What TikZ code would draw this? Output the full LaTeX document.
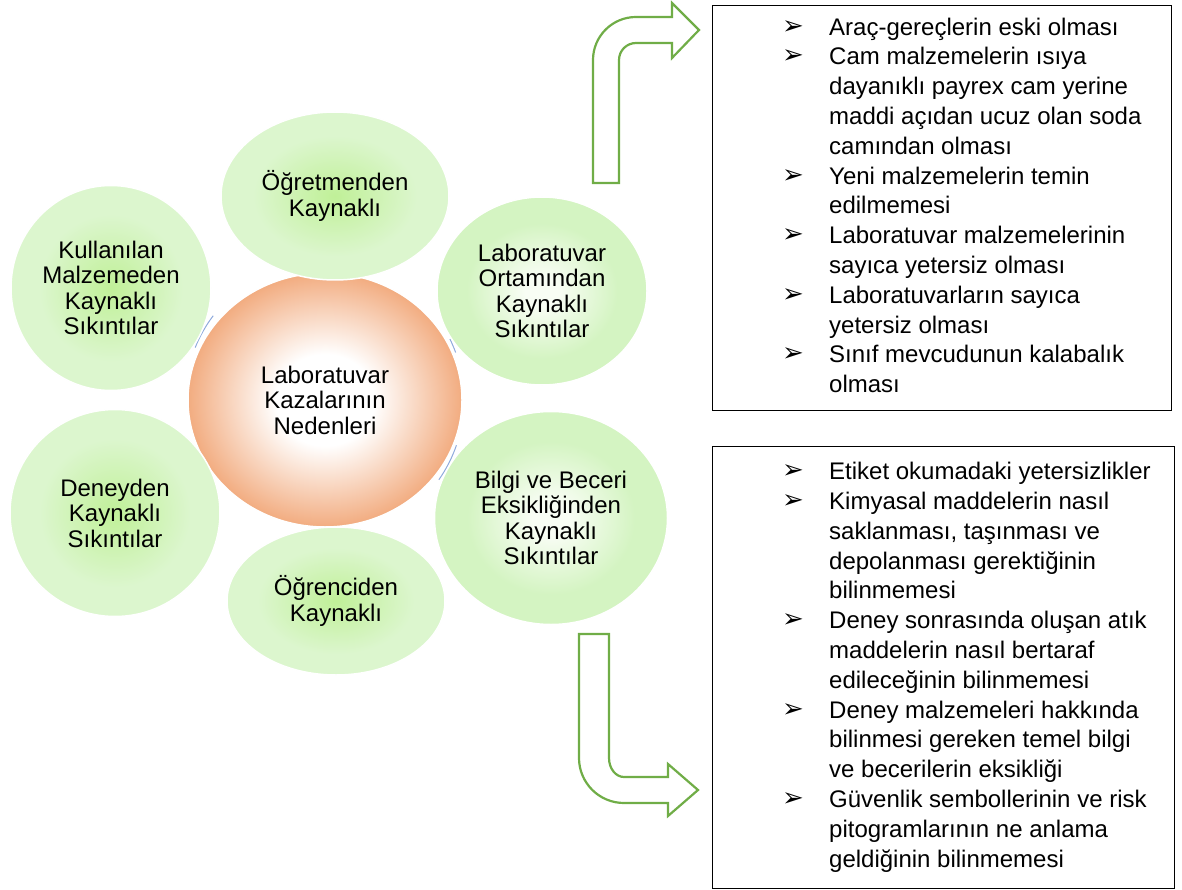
\documentclass[tikz,border=0pt]{standalone}
\usepackage{fontspec}
\setmainfont{Liberation Sans}
\newfontfamily\dejavu{DejaVu Sans}
\usetikzlibrary{shapes}
\usetikzlibrary{positioning}

\definecolor{okyesil}{RGB}{112,173,71}
\definecolor{halkamavi}{RGB}{143,170,220}
\definecolor{yesilic}{RGB}{192,240,152}
\definecolor{yesildis}{RGB}{220,246,206}
\definecolor{acikic}{RGB}{248,253,244}
\definecolor{acikdis}{RGB}{212,244,194}
\definecolor{turuncu}{RGB}{242,172,128}
\pgfdeclareradialshading{yesilgolge}{\pgfpoint{0bp}{0bp}}{color(0bp)=(yesilic); color(18bp)=(yesildis); color(50bp)=(yesildis)}
\pgfdeclareradialshading{acikgolge}{\pgfpoint{0bp}{0bp}}{color(0bp)=(acikic); color(4bp)=(acikic); color(18bp)=(acikdis); color(50bp)=(acikdis)}
\pgfdeclareradialshading{turuncugolge}{\pgfpoint{0bp}{0bp}}{color(0bp)=(white); color(9bp)=(white); color(25bp)=(turuncu); color(50bp)=(turuncu)}

\newcommand{\isaret}{\raisebox{1pt}{\dejavu\fontsize{26}{26}\selectfont ➢}}

\begin{document}
\begin{tikzpicture}[x=1pt,y=-1pt]
				\tikzstyle{daire}=[ellipse,draw=white,line width=1.5pt,inner sep=0pt,align=center,shade,font=\fontsize{24}{25.5}\selectfont]
				\tikzstyle{yesil}=[daire,shading=yesilgolge]
				\tikzstyle{acik}=[daire,shading=acikgolge]
				\tikzstyle{kutu}=[draw,line width=0.8pt,inner sep=0pt,anchor=north west]
				\tikzstyle{liste}=[inner sep=0pt,anchor=west,font=\fontsize{24}{29.8}\selectfont]
				\tikzstyle{blok}=[draw=okyesil,line width=2.2pt,fill=white]
				\tikzstyle{halka}=[draw=halkamavi,line width=1pt]
				\useasboundingbox (0,0) rectangle (1182,890);

				\coordinate (orta) at (325,400);
				\draw[halka] (orta) ++(202:140) arc(202:217:140);
				\draw[halka] (orta) ++(-26:139) arc(-26:-20:139);
				\draw[halka] (orta) ++(19:139) arc(19:35:139);

				\node[daire,shading=turuncugolge,minimum width=274pt,minimum height=254pt] (merkez) at (orta) {Laboratuvar\\Kazalarının\\Nedenleri};
				\node[yesil,minimum width=228pt,minimum height=168pt] (ogretmen) at (335,196) {Öğretmenden\\Kaynaklı};
				\node[acik,minimum width=210pt,minimum height=188pt] (ortam) at (542,291) {Laboratuvar\\Ortamından\\Kaynaklı\\Sıkıntılar};
				\node[acik,minimum width=233pt,minimum height=213pt] (bilgi) at (551,518) {Bilgi ve Beceri\\Eksikliğinden\\Kaynaklı\\Sıkıntılar};
				\node[yesil,minimum width=218pt,minimum height=148pt] (ogrenci) at (336,601) {Öğrenciden\\Kaynaklı};
				\node[yesil,minimum width=210pt,minimum height=207pt] (deney) at (115,513) {Deneyden\\Kaynaklı\\Sıkıntılar};
				\node[yesil,minimum width=200pt,minimum height=205pt] (malzeme) at (111,288) {Kullanılan\\Malzemeden\\Kaynaklı\\Sıkıntılar};

				% ust ok
				\draw[blok] (593,183) -- (593,60) arc(180:270:43) -- (672,17) -- (672,3) -- (699,30) -- (672,58) -- (672,43) -- (636,43) arc(270:180:17) -- (619,183) -- cycle;
				% alt ok
				\draw[blok] (579,634) -- (579,758) arc(180:90:45) -- (668,803) -- (668,816) -- (698,790) -- (668,764) -- (668,777) -- (624,777) arc[start angle=90,end angle=180,x radius=15,y radius=19] -- (609,634) -- cycle;

				\node[kutu,minimum width=459pt,minimum height=405pt] (kutu1) at (712,5) {};
				\node[liste] (liste1) at ([xshift=70pt]kutu1.west) {\begin{tabular}{@{}p{47pt}@{}l@{}}
					\isaret & Araç-gereçlerin eski olması\\
					\isaret & Cam malzemelerin ısıya\\
					& dayanıklı payrex cam yerine\\
					& maddi açıdan ucuz olan soda\\
					& camından olması\\
					\isaret & Yeni malzemelerin temin\\
					& edilmemesi\\
					\isaret & Laboratuvar malzemelerinin\\
					& sayıca yetersiz olması\\
					\isaret & Laboratuvarların sayıca\\
					& yetersiz olması\\
					\isaret & Sınıf mevcudunun kalabalık\\
					& olması
				\end{tabular}};

				\node[kutu,minimum width=462pt,minimum height=442pt] (kutu2) at (712,446) {};
				\node[liste] (liste2) at ([xshift=70pt]kutu2.west) {\begin{tabular}{@{}p{47pt}@{}l@{}}
					\isaret & Etiket okumadaki yetersizlikler\\
					\isaret & Kimyasal maddelerin nasıl\\
					& saklanması, taşınması ve\\
					& depolanması gerektiğinin\\
					& bilinmemesi\\
					\isaret & Deney sonrasında oluşan atık\\
					& maddelerin nasıl bertaraf\\
					& edileceğinin bilinmemesi\\
					\isaret & Deney malzemeleri hakkında\\
					& bilinmesi gereken temel bilgi\\
					& ve becerilerin eksikliği\\
					\isaret & Güvenlik sembollerinin ve risk\\
					& pitogramlarının ne anlama\\
					& geldiğinin bilinmemesi
				\end{tabular}};
\end{tikzpicture}
\end{document}
